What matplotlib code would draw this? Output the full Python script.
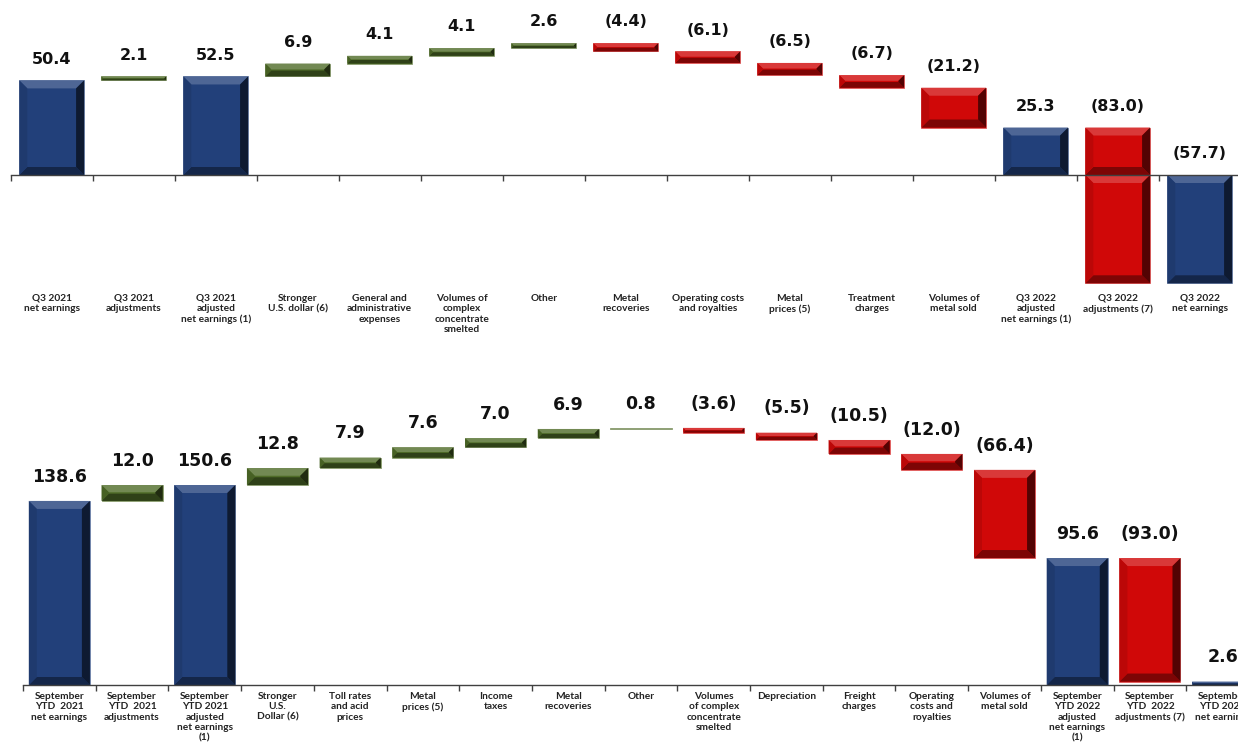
import numpy as np
import matplotlib.pyplot as plt
from matplotlib.patches import Polygon
from matplotlib.colors import to_rgb

# ---- data: Q3 bridge ----
q3_labels = ["Q3 2021\nnet earnings", "Q3 2021\nadjustments", "Q3 2021\nadjusted\nnet earnings (1)",
             "Stronger\nU.S. dollar (6)", "General and\nadministrative\nexpenses",
             "Volumes of\ncomplex\nconcentrate\nsmelted", "Other", "Metal\nrecoveries",
             "Operating costs\nand royalties", "Metal\nprices (5)", "Treatment\ncharges",
             "Volumes of\nmetal sold", "Q3 2022\nadjusted\nnet earnings (1)",
             "Q3 2022\nadjustments (7)", "Q3 2022\nnet earnings"]
q3_values = [50.4, 2.1, 52.5, 6.9, 4.1, 4.1, 2.6, -4.4, -6.1, -6.5, -6.7, -21.2, 25.3, -83.0, -57.7]
q3_kind = ["total", "delta", "total", "delta", "delta", "delta", "delta", "delta", "delta",
           "delta", "delta", "delta", "total", "delta", "total"]

# ---- data: September YTD bridge ----
ytd_labels = ["September\nYTD  2021\nnet earnings", "September\nYTD  2021\nadjustments",
              "September\nYTD 2021\nadjusted\nnet earnings\n(1)", "Stronger\nU.S.\nDollar (6)",
              "Toll rates\nand acid\nprices", "Metal\nprices (5)", "Income\ntaxes", "Metal\nrecoveries",
              "Other", "Volumes\nof complex\nconcentrate\nsmelted", "Depreciation", "Freight\ncharges",
              "Operating\ncosts and\nroyalties", "Volumes of\nmetal sold",
              "September\nYTD 2022\nadjusted\nnet earnings\n(1)", "September\nYTD  2022\nadjustments (7)",
              "September\nYTD 2022\nnet earnings"]
ytd_values = [138.6, 12.0, 150.6, 12.8, 7.9, 7.6, 7.0, 6.9, 0.8, -3.6, -5.5, -10.5, -12.0, -66.4,
              95.6, -93.0, 2.6]
ytd_kind = ["total", "delta", "total", "delta", "delta", "delta", "delta", "delta", "delta", "delta",
            "delta", "delta", "delta", "delta", "total", "delta", "total"]

BLUE = "#22407a"
GREEN = "#4f6c28"
RED = "#d00808"

W, H = 1238, 750
fig = plt.figure(figsize=(W / 100, H / 100), dpi=100)


def shade(c, f):
    c = np.array(to_rgb(c))
    if f > 0:
        return tuple(c + (1 - c) * f)
    return tuple(c * (1 + f))


def bevel_bar(ax, x, y0, y1, width, color, ppx, ppy, bev=8):
    lo, hi = min(y0, y1), max(y0, y1)
    h_px = (hi - lo) * ppy
    w_px = width * ppx
    x0, x1 = x - width / 2, x + width / 2
    ax.add_patch(Polygon([(x0, lo), (x1, lo), (x1, hi), (x0, hi)], closed=True,
                         facecolor=color, edgecolor=shade(color, 0.35), lw=0.6, zorder=2))
    b = min(bev, h_px / 2.2, w_px / 3)
    if b < 1:
        return
    bx, by = b / ppx, b / ppy
    pieces = [
        ([(x0, hi), (x1, hi), (x1 - bx, hi - by), (x0 + bx, hi - by)], shade(color, 0.2)),
        ([(x0, lo), (x1, lo), (x1 - bx, lo + by), (x0 + bx, lo + by)], shade(color, -0.4)),
        ([(x1, lo), (x1, hi), (x1 - bx, hi - by), (x1 - bx, lo + by)], shade(color, -0.6)),
        ([(x0, lo), (x0, hi), (x0 + bx, hi - by), (x0 + bx, lo + by)], shade(color, -0.1)),
    ]
    for pts, col in pieces:
        ax.add_patch(Polygon(pts, closed=True, facecolor=col, edgecolor="none", zorder=3))


def waterfall(rect_px, ylim, labels, values, kinds, width, val_size, val_off, lab_off):
    left, top, wpx, hpx = rect_px
    ax = fig.add_axes([left / W, 1 - (top + hpx) / H, wpx / W, hpx / H])
    n = len(values)
    ax.set_xlim(-0.5, n - 0.5)
    ax.set_ylim(*ylim)
    ppx = wpx / n
    ppy = hpx / (ylim[1] - ylim[0])

    level = 0.0
    for i, (v, k) in enumerate(zip(values, kinds)):
        if k == "total":
            y0, y1 = 0.0, v
            color = BLUE
            level = v
        else:
            y0, y1 = level, level + v
            color = GREEN if v > 0 else RED
            level = level + v
        # bars crossing zero are drawn as two stacked pieces
        if min(y0, y1) < 0 < max(y0, y1):
            bevel_bar(ax, i, max(y0, y1), 0, width, color, ppx, ppy)
            bevel_bar(ax, i, 0, min(y0, y1), width, color, ppx, ppy)
        else:
            bevel_bar(ax, i, y0, y1, width, color, ppx, ppy)
        txt = f"{v:.1f}" if v >= 0 else f"({abs(v):.1f})"
        ax.annotate(txt, (i, max(y0, y1, 0)), xytext=(0, val_off), textcoords="offset points",
                    ha="center", va="bottom", fontsize=val_size, fontweight="bold",
                    family="DejaVu Sans", color="#111111")
        ax.annotate(labels[i], (i, ylim[0]), xycoords=("data", "data"), xytext=(0, -lab_off),
                    textcoords="offset pixels", ha="center", va="top", fontsize=7.3,
                    fontweight="bold", family="Lato", color="#222222", linespacing=1.2,
                    annotation_clip=False)

    for s in ["top", "left", "right"]:
        ax.spines[s].set_visible(False)
    ax.spines["bottom"].set_position(("data", 0))
    ax.spines["bottom"].set_color("#404040")
    ax.spines["bottom"].set_linewidth(1.0)
    ax.spines["bottom"].set_zorder(4)
    ax.set_xticks(np.arange(n + 1) - 0.5)
    ax.tick_params(axis="x", length=4, width=1, color="#404040", labelbottom=False)
    ax.set_yticks([])
    ax.patch.set_alpha(0)
    return ax


# top chart: zero at y=175 px, 1.877 px per unit, axes bottom at 292 px
waterfall((10.7, 0, 1230, 292), (-117 / 1.877, 175 / 1.877), q3_labels, q3_values, q3_kind,
          0.79, 11.5, 10, 2)
# bottom chart: zero at y=685 px, 1.328 px per unit
waterfall((23, 380, 1236, 305), (0, 305 / 1.328), ytd_labels, ytd_values, ytd_kind,
          0.84, 12.5, 11, 7)

fig.savefig("out.png", dpi=100)
